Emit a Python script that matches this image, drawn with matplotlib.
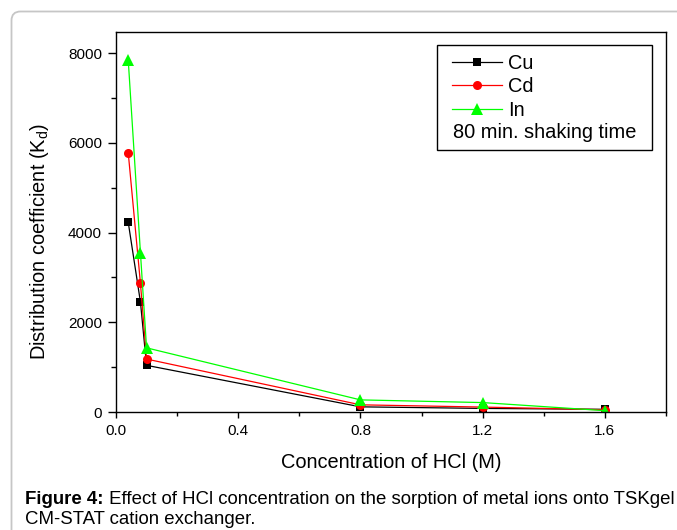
import matplotlib
matplotlib.use("Agg")
import matplotlib.pyplot as plt
from matplotlib.patches import FancyBboxPatch, Rectangle
from matplotlib.ticker import MultipleLocator
from matplotlib.transforms import IdentityTransform

plt.rcParams['font.family'] = ['Liberation Sans', 'DejaVu Sans']

# ---- data ----
hcl_conc = [0.04, 0.08, 0.1, 0.8, 1.2, 1.6]
kd_cu = [4230, 2450, 1040, 115, 80, 60]
kd_cd = [5780, 2870, 1180, 160, 110, 50]
kd_in = [7850, 3550, 1430, 270, 210, 30]
series_names = ["Cu", "Cd", "In"]
legend_note = "80 min. shaking time"
x_ticks = [0.0, 0.4, 0.8, 1.2, 1.6]
y_ticks = [0, 2000, 4000, 6000, 8000]
x_label = "Concentration of HCl (M)"
y_label = "Distribution coefficient (K$_\\mathregular{d}$)"
caption_bold = "Figure 4:"
caption_rest = " Effect of HCl concentration on the sorption of metal ions onto TSKgel"
caption_line2 = "CM-STAT cation exchanger."

W, H = 677, 530
fig = plt.figure(figsize=(W / 100, H / 100), dpi=100)

# outer rounded frame
frame = FancyBboxPatch((11.5, -30), 700, 530 - 11.5 + 30,
                       boxstyle="round,pad=0,rounding_size=9",
                       transform=IdentityTransform(), fill=False,
                       edgecolor="#c6c6c6", linewidth=1.3)
fig.patches.append(frame)

ax = fig.add_axes([116 / W, 1 - 412 / H, (666 - 116) / W, (412 - 32) / H])

styles = [("black", "s", 6.3), ("#ff0000", "o", 6.5), ("#00ff00", "^", 8.0)]
for vals, name, (c, m, ms) in zip([kd_cu, kd_cd, kd_in], series_names, styles):
    ax.plot(hcl_conc, vals, color=c, marker=m, markersize=ms,
            markeredgewidth=0, linewidth=0.9, label=name)

ax.set_xlim(0, 1.8)
ax.set_ylim(0, 8470)
ax.set_xticks(x_ticks)
ax.set_xticklabels([f"{v:.1f}" for v in x_ticks])
ax.set_yticks(y_ticks)
ax.xaxis.set_minor_locator(MultipleLocator(0.2))
ax.yaxis.set_minor_locator(MultipleLocator(1000))
ax.tick_params(axis='both', which='both', direction='out', labelsize=11,
               width=1.0, top=False, right=False)
ax.tick_params(axis='x', which='major', length=4.5, pad=4)
ax.tick_params(axis='x', which='minor', length=2.7)
ax.tick_params(axis='y', which='major', length=6, pad=4)
ax.tick_params(axis='y', which='minor', length=3.3)
for sp in ax.spines.values():
    sp.set_linewidth(1.0)

ax.set_xlabel(x_label, fontsize=14.4)
ax.xaxis.set_label_coords(0.5, (412 - 462) / 380, transform=ax.transAxes)
ax.set_ylabel(y_label, fontsize=14.4)
ax.yaxis.set_label_coords((40 - 116) / 550, (412 - 241) / 380)
ax.yaxis.label.set_verticalalignment('center')
ax.xaxis.label.set_verticalalignment('center')

# legend box
ax.add_patch(Rectangle((0.583, 0.689), 0.975 - 0.583, 0.966 - 0.689,
                       transform=ax.transAxes, fill=False, edgecolor="black",
                       linewidth=1.0, zorder=5))
leg = ax.legend(loc='upper left', bbox_to_anchor=((452 - 116) / 550, (412 - 54) / 380),
                frameon=False, fontsize=14.4, handlelength=2.5, handletextpad=0.3,
                labelspacing=0.22, borderpad=0, borderaxespad=0)
ax.text((453 - 116) / 550, (412 - 132) / 380, legend_note, transform=ax.transAxes,
        fontsize=14.4, va='center', ha='left')

# caption
cap_fs = 13.4
t1 = fig.text(25 / W, 1 - 504 / H, caption_bold, fontsize=cap_fs, fontweight='bold',
              va='baseline', ha='left')
fig.canvas.draw()
bb = t1.get_window_extent()
fig.text(bb.x1 / W, 1 - 504 / H, caption_rest, fontsize=cap_fs, va='baseline', ha='left')
fig.text(25 / W, 1 - 524 / H, caption_line2, fontsize=cap_fs, va='baseline', ha='left')

fig.savefig("out.png", dpi=100)
